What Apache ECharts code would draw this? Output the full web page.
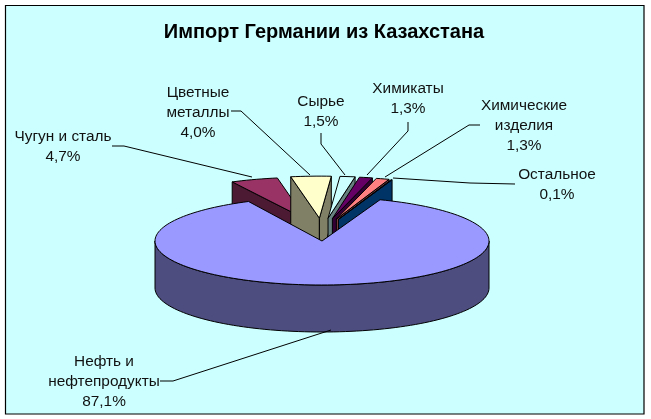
<!DOCTYPE html>
<html><head><meta charset="utf-8">
<style>html,body{margin:0;padding:0;background:#fff}#c{width:651px;height:419px}</style>
<script src="https://cdn.jsdelivr.net/npm/echarts@6/dist/echarts.min.js"></script>
</head><body><div id="c"></div>
<script>
// Data, clockwise from the start of the first small slice
const categories = ['Чугун и сталь','Цветные\nметаллы','Сырье','Химикаты','Химические\nизделия','Остальное','Нефть и\nнефтепродукты'];
const shares = [4.7,4.0,1.5,1.3,1.3,0.1,87.1];
const chartTitle = 'Импорт Германии из Казахстана';

// Styles and layout
const topColors  = ['#993366','#FFFFCC','#CCFFFF','#660066','#FF8080','#0066CC','#9999FF'];
const wallColors = ['#4D1A33','#808066','#668080','#330033','#804040','#003366','#4D4D80'];
const labelCenters = [[63,147],[198,113],[321,112],[408,99],[524,126],[557,185],[104,382]];
const leaders = [
  [[112,146],[124,146],[252,177]],
  [[231,111],[241,111],[310,175]],
  [[321,133],[321,144],[345,175]],
  [[408,122],[408,131],[367,175]],
  [[480,125],[469,125],[385,177]],
  [[515,184],[470,183],[393,178]],
  [[160,381],[173,381],[331,330]]
];
const START_DEG = -26.1, SMALL_ROTATE = -1, EXPLODE_X = 0.3, EXPLODE_Y = 0.52, SMALL_RX = 0.97, SMALL_RY = 0.955, DEPTH = 47;
const rad = d => d * Math.PI / 180;
const mainIdx = shares.length - 1;
const angles = []; let acc = START_DEG;
shares.forEach((v, i) => {
  const off = i === mainIdx ? 0 : SMALL_ROTATE;
  angles.push([acc + off, acc + v * 3.6 + off]);
  acc += v * 3.6;
});

function renderSlice(params, api) {
  const i = api.value(0);
  const [a0, a1] = angles[i];
  const mid = (a0 + a1) / 2;
  const isMain = i === mainIdx;
  const ax = isMain ? 0 : EXPLODE_X * Math.sin(rad(mid));
  const ay = isMain ? 0 : EXPLODE_Y * Math.cos(rad(mid));
  const rx = isMain ? 1 : SMALL_RX, ry = isMain ? 1 : SMALL_RY;
  const P = t => api.coord([ax + rx * Math.sin(rad(t)), ay + ry * Math.cos(rad(t))]);
  const apex = api.coord([ax, ay]);
  const down = p => [p[0], p[1] + DEPTH];
  const poly = (points, fill) => ({type:'polygon', shape:{points}, style:{fill, stroke:'#000', lineWidth:1}});
  const children = [];
  if (isMain) {
    const front = [];
    for (let t = 90; t <= 270; t += 2) front.push(P(t));
    children.push(poly(front.concat(front.slice().reverse().map(down)), wallColors[i]));
  } else {
    if (a0 < 0) children.push(poly([apex, P(a0), down(P(a0)), down(apex)], wallColors[i]));
    if (a1 > 0) children.push(poly([apex, P(a1), down(P(a1)), down(apex)], wallColors[i]));
  }
  const top = [apex];
  const steps = Math.max(2, Math.ceil((a1 - a0) / 2));
  for (let k = 0; k <= steps; k++) top.push(P(a0 + (a1 - a0) * k / steps));
  children.push(poly(top, topColors[i]));
  return {type:'group', children};
}

const graphics = [{type:'rect', z:0, shape:{x:5.5,y:5.5,width:638.5,height:408.5}, style:{fill:'#CCFFFF',stroke:'#000',lineWidth:1.2}}];
categories.forEach((c, i) => {
  graphics.push({type:'polyline', z:5, shape:{points:leaders[i]}, style:{stroke:'#000',lineWidth:1,fill:null}});
  graphics.push({type:'text', z:6, x:labelCenters[i][0], y:labelCenters[i][1],
    style:{text:c + '\n' + shares[i].toFixed(1).replace('.',',') + '%', font:'15.4px "Liberation Sans"', fill:'#111',
      lineHeight:20, align:'center', verticalAlign:'middle'}});
});

const chart = echarts.init(document.getElementById('c'), null, {renderer:'canvas'});
chart.setOption({
  animation:false,
  backgroundColor:'#fff',
  title:{text:chartTitle, left:319, top:17, textAlign:'center', z:6,
    textStyle:{fontFamily:'Liberation Sans', fontWeight:'bold', fontSize:20, color:'#000'}},
  grid:{left:155, top:197, width:334, height:88},
  xAxis:{type:'value', min:-1, max:1, show:false},
  yAxis:{type:'value', min:-1, max:1, show:false},
  graphic:graphics,
  series:[{type:'custom', z:3, clip:false, coordinateSystem:'cartesian2d', renderItem:renderSlice,
    encode:{x:0,y:1}, silent:true, data:shares.map((v,i)=>[i,v])}]
});
</script></body></html>
